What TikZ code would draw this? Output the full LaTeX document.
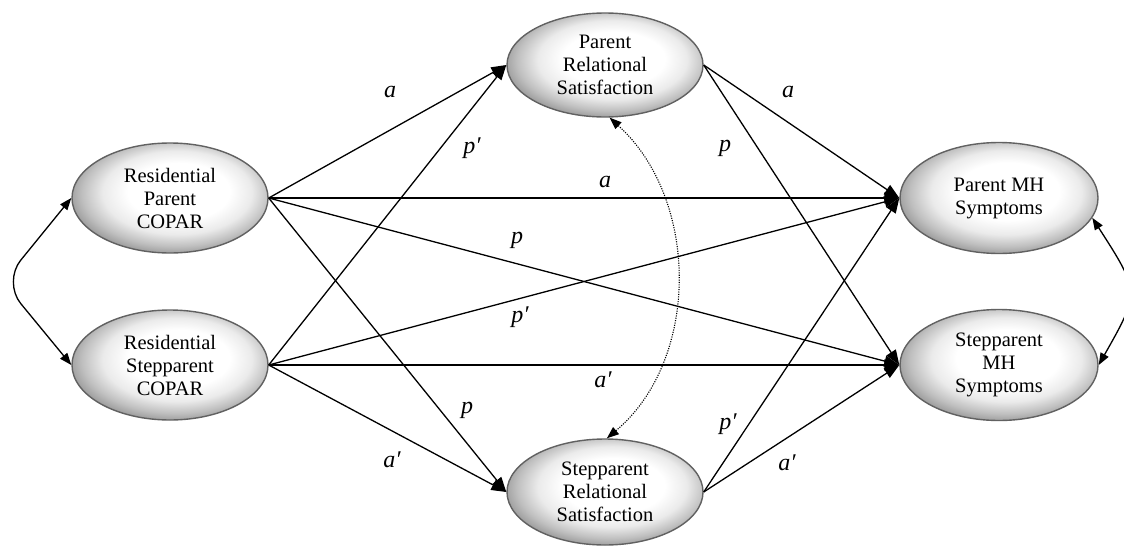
\documentclass[tikz,border=0pt]{standalone}
\usepackage{fontspec}
\setmainfont{Liberation Serif}
\usetikzlibrary{arrows.meta,shapes.geometric}
\pgfdeclareradialshading{ellshade}{\pgfpoint{3bp}{4bp}}{color(0bp)=(white); color(13bp)=(white); color(19bp)=(black!8); color(24bp)=(black!25); color(28bp)=(black!42); color(50bp)=(black!42)}
\tikzset{
  latent/.style={ellipse, shading=ellshade, draw=black!62, line width=1.4pt,
    minimum width=196pt, minimum height=110pt, inner sep=0pt, align=center,
    font=\fontsize{20.5}{23}\selectfont},
  causal/.style={-{Triangle[length=15pt,width=11pt]}, line width=1.3pt},
  biarrow/.style={{Triangle[length=12pt,width=9pt]}-{Triangle[length=12pt,width=9pt]}, line width=1.3pt},
  dotarrow/.style={{Triangle[length=12pt,width=9pt]}-{Triangle[length=12pt,width=9pt]}, line width=1.1pt, dash pattern=on 1.1pt off 1.3pt},
  lab/.style={font=\fontsize{24}{26}\selectfont\itshape, inner sep=0pt}
}
\begin{document}
\begin{tikzpicture}[x=1pt,y=-1pt]
\clip (0,0) rectangle (1124,546);
% nodes
\node[latent] (rp) at (170,198) {Residential\\Parent\\COPAR};
\node[latent] (rsc) at (170,365) {Residential\\Stepparent\\COPAR};
\node[latent, minimum height=104pt] (prs) at (605,65) {Parent\\Relational\\Satisfaction};
\node[latent, minimum height=106pt] (srs) at (605,492) {Stepparent\\Relational\\Satisfaction};
\node[latent, minimum width=198pt, minimum height=111pt] (pmh) at (999,198) {Parent MH\\Symptoms};
\node[latent, minimum width=198pt, minimum height=111pt] (smh) at (999,365) {Stepparent\\MH\\Symptoms};
% paths from residential parent COPAR
\draw[causal] (rp.east) -- (prs.west);
\draw[causal] (rp.east) -- (pmh.west);
\draw[causal] (rp.east) -- (smh.west);
\draw[causal] (rp.east) -- (srs.west);
% paths from residential stepparent COPAR
\draw[causal] (rsc.east) -- (prs.west);
\draw[causal] (rsc.east) -- (pmh.west);
\draw[causal] (rsc.east) -- (smh.west);
\draw[causal] (rsc.east) -- (srs.west);
% mediators to outcomes
\draw[causal] (prs.east) -- (pmh.west);
\draw[causal] (prs.east) -- (smh.west);
\draw[causal] (srs.east) -- (pmh.west);
\draw[causal] (srs.east) -- (smh.west);
% covariances
\coordinate (lb) at (3,282);
\draw[biarrow, rounded corners=28pt] (rp.west) -- (lb) -- (rsc.west);
\coordinate (rb) at (1140,292);
\draw[biarrow] (pmh.-12) .. controls (rb) .. (smh.east);
\coordinate (dc1) at (700,200);
\coordinate (dc2) at (700,360);
\draw[dotarrow] (prs.-85) .. controls (dc1) and (dc2) .. (srs.88);
% labels
\node[lab] (l1) at (390,92) {a};
\node[lab] (l2) at (472,148) {p′};
\node[lab] (l3) at (605,182) {a};
\node[lab] (l4) at (517,240) {p};
\node[lab] (l5) at (520,317) {p′};
\node[lab] (l6) at (603,380) {a′};
\node[lab] (l7) at (467,410) {p};
\node[lab] (l8) at (392,460) {a′};
\node[lab] (l9) at (788,92) {a};
\node[lab] (l10) at (725,148) {p};
\node[lab] (l11) at (728,424) {p′};
\node[lab] (l12) at (787,463) {a′};
\end{tikzpicture}
\end{document}
